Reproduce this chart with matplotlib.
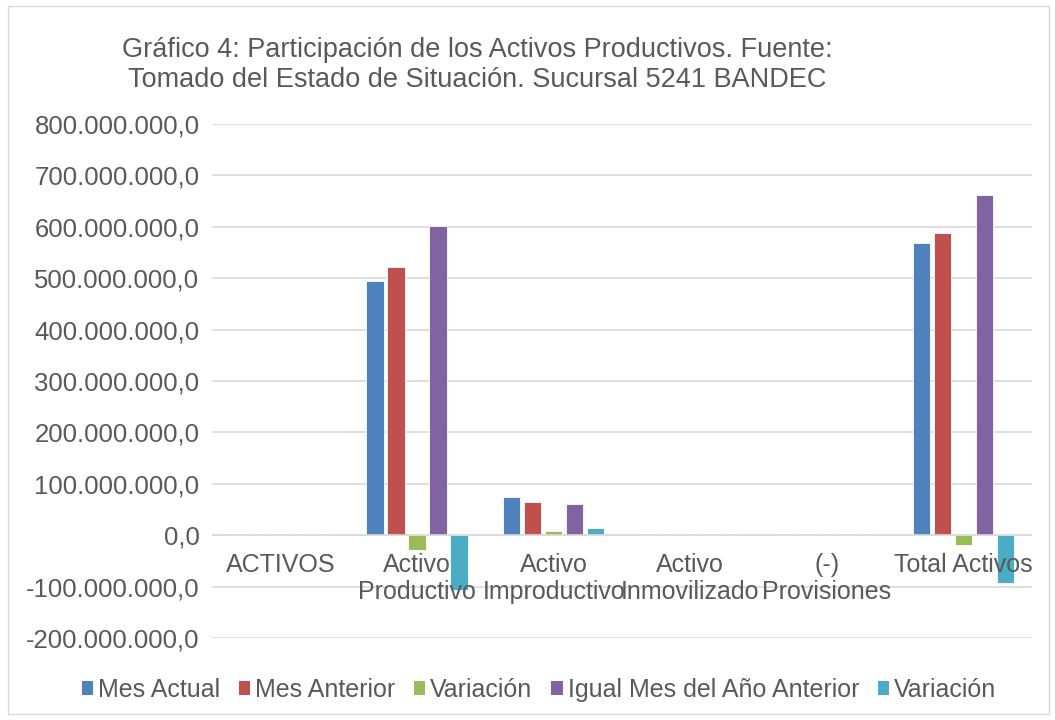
import numpy as np
import matplotlib.pyplot as plt
from matplotlib.patches import Patch, Rectangle
from matplotlib.ticker import FuncFormatter

# ===============================
# Data
# ===============================
categories = ["ACTIVOS", "Activo\nProductivo", "Activo\nImproductivo",
              "Activo\nInmovilizado", "(-)\nProvisiones", "Total Activos"]
series_names = ["Mes Actual", "Mes Anterior", "Variación",
                "Igual Mes del Año Anterior", "Variación"]
mes_actual = [0, 494e6, 74e6, 0, 0, 569e6]
mes_anterior = [0, 522e6, 65e6, 0, 0, 588e6]
variacion_1 = [0, -28e6, 9e6, 0, 0, -19e6]
igual_mes = [0, 601e6, 61e6, 0, 0, 661e6]
variacion_2 = [0, -106e6, 14e6, 0, 0, -93e6]

series = [mes_actual, mes_anterior, variacion_1, igual_mes, variacion_2]
colors = ["#4F81BD", "#C0504D", "#9BBB59", "#8064A2", "#4BACC6"]

title = ("Gráfico 4: Participación de los Activos Productivos. Fuente:\n"
         "Tomado del Estado de Situación. Sucursal 5241 BANDEC")

text_color = "#595959"
plt.rcParams["font.family"] = ["Liberation Sans", "DejaVu Sans"]

# ===============================
# Figure
# ===============================
fig = plt.figure(figsize=(10.55, 7.2), dpi=100)
ax = fig.add_axes([212 / 1055, 82 / 720, 820 / 1055, 514 / 720])

x = np.arange(len(categories))
pitch = 0.154
width = 0.126
for k, (vals, col) in enumerate(zip(series, colors)):
    ax.bar(x + (k - 2) * pitch, vals, width, color=col,
           edgecolor="white", linewidth=0.6, zorder=3)

ax.set_xlim(-0.5, len(categories) - 0.5)
ax.set_ylim(-200e6, 800e6)
ax.set_yticks(np.arange(-200e6, 800e6 + 1, 100e6))


def fmt(v, pos):
    s = f"{abs(v):,.1f}".replace(",", "X").replace(".", ",").replace("X", ".")
    return ("-" if v < 0 else "") + s


ax.yaxis.set_major_formatter(FuncFormatter(fmt))
ax.tick_params(axis="y", length=0, pad=9, labelsize=18.5, labelcolor=text_color)
ax.set_xticks([])
ax.grid(axis="y", color="#D9D9D9", linewidth=1.2, zorder=0)
for sp in ax.spines.values():
    sp.set_visible(False)
ax.axhline(0, color="#D9D9D9", linewidth=1.2, zorder=3.5)

# category labels next to the zero line
for i, lab in enumerate(categories):
    ax.annotate(lab, (i, 0), xytext=(0, -13), textcoords="offset points",
                ha="center", va="top", fontsize=18, color=text_color,
                linespacing=1.12, zorder=4)

# title
fig.text(477 / 1055, 1 - 65 / 720, title, ha="center", va="center",
         fontsize=19.5, color=text_color, linespacing=1.22)

# legend
handles = [Patch(facecolor=c) for c in colors]
fig.legend(handles, series_names, loc="center", bbox_to_anchor=(539 / 1055, 1 - 690 / 720),
           ncol=5, frameon=False, fontsize=18, handlelength=0.45, handleheight=0.45,
           handletextpad=0.2, columnspacing=0.75, labelcolor=text_color)

# chart border
fig.patches.append(Rectangle((8 / 1055, 6 / 720), 1041 / 1055, 708 / 720,
                             transform=fig.transFigure, fill=False,
                             edgecolor="#D9D9D9", linewidth=1))

fig.savefig("out.png", dpi=100)
